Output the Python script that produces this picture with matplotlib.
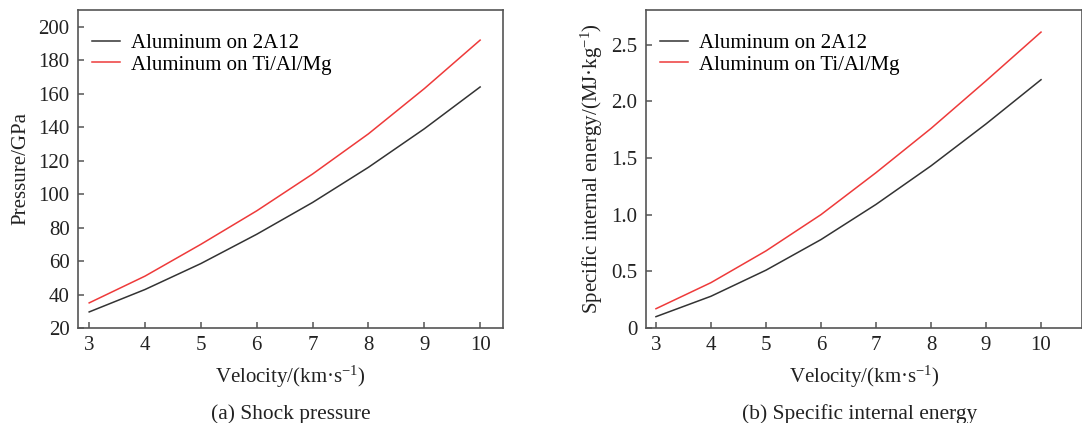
import matplotlib
matplotlib.use("Agg")
import matplotlib.pyplot as plt

plt.rcParams['font.family'] = ['Liberation Serif', 'DejaVu Serif']
plt.rcParams['mathtext.fontset'] = 'custom'
plt.rcParams['mathtext.rm'] = 'Liberation Serif'
plt.rcParams['mathtext.it'] = 'Liberation Serif:italic'

# velocity in km/s
velocity = [3, 4, 5, 6, 7, 8, 9, 10]

# shock pressure, GPa
pressure_2a12 = [29.6, 43, 58.5, 76, 95, 116, 139, 164]
pressure_tialmg = [35, 51, 70, 90, 112, 136, 163, 192]

# specific internal energy, MJ/kg
energy_2a12 = [0.10, 0.28, 0.51, 0.78, 1.09, 1.43, 1.80, 2.19]
energy_tialmg = [0.17, 0.40, 0.68, 1.00, 1.37, 1.76, 2.18, 2.61]

labels = ['Aluminum on 2A12', 'Aluminum on Ti/Al/Mg']
colors = ['#333333', '#ee3a3a']

fig = plt.figure(figsize=(10.82, 4.23), dpi=100)
ax1 = fig.add_axes([0.0721, 0.2246, 0.3928, 0.7518])
ax2 = fig.add_axes([0.597, 0.2246, 0.403, 0.7518])

fs = 15
spine_col = '#555555'
text_col = '#222222'


def style(ax):
    for side in ['top', 'right', 'bottom', 'left']:
        ax.spines[side].set_color(spine_col)
        ax.spines[side].set_linewidth(1.2)
    ax.tick_params(direction='in', length=4, width=1.1, color=spine_col,
                   labelsize=fs, labelcolor=text_col, pad=6)
    ax.set_xticks(velocity)


def add_legend(ax):
    ax.legend(loc='upper left', frameon=False, fontsize=fs, handlelength=1.35,
              handletextpad=0.5, labelspacing=0.1, borderaxespad=0.0,
              borderpad=0.0, bbox_to_anchor=(0.033, 0.926))


# (a) shock pressure
ax1.plot(velocity, pressure_2a12, color=colors[0], lw=1.1, label=labels[0])
ax1.plot(velocity, pressure_tialmg, color=colors[1], lw=1.1, label=labels[1])
ax1.set_xlim(2.8, 10.41)
ax1.set_ylim(20, 210)
ax1.set_yticks(range(20, 201, 20))
style(ax1)
ax1.set_xlabel(r'Velocity/(km·s$^{-1}$)', fontsize=fs, color=text_col, labelpad=6)
ax1.set_ylabel('Pressure/GPa', fontsize=fs, color=text_col, labelpad=6)
add_legend(ax1)
ax1.text(0.5, -0.27, '(a) Shock pressure', transform=ax1.transAxes,
         ha='center', va='center', fontsize=15.4, color=text_col)

# (b) specific internal energy
ax2.plot(velocity, energy_2a12, color=colors[0], lw=1.1, label=labels[0])
ax2.plot(velocity, energy_tialmg, color=colors[1], lw=1.1, label=labels[1])
ax2.set_xlim(2.818, 10.745)
ax2.set_ylim(0, 2.805)
ax2.set_yticks([0, 0.5, 1.0, 1.5, 2.0, 2.5])
ax2.set_yticklabels(['0', '0.5', '1.0', '1.5', '2.0', '2.5'])
style(ax2)
ax2.set_xlabel(r'Velocity/(km·s$^{-1}$)', fontsize=fs, color=text_col, labelpad=6)
ax2.set_ylabel(r'Specific internal energy/(MJ·kg$^{-1}$)', fontsize=fs,
               color=text_col, labelpad=5)
add_legend(ax2)
ax2.text(0.49, -0.27, '(b) Specific internal energy', transform=ax2.transAxes,
         ha='center', va='center', fontsize=15.4, color=text_col)

fig.savefig('out.png', dpi=100)
